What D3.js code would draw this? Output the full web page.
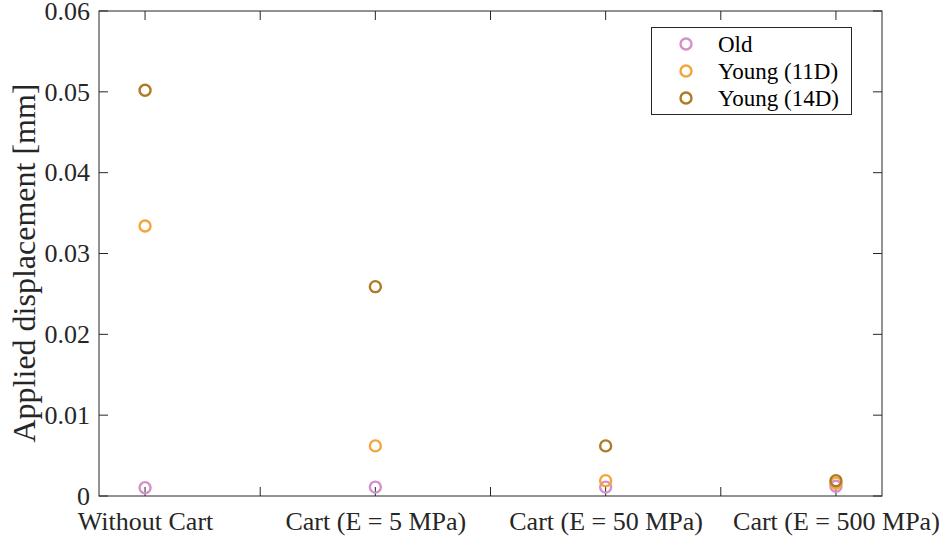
<!DOCTYPE html>
<html>
<head>
<meta charset="utf-8">
<script src="https://cdn.jsdelivr.net/npm/d3@7"></script>
<style>
  html, body { margin: 0; padding: 0; background: #fff; }
  svg text { font-family: "Liberation Serif", "Tinos", "Times New Roman", Times, "DejaVu Serif", serif !important; }
</style>
</head>
<body>
<svg id="chart" width="944" height="539"></svg>
<script>
const categories = ["Without Cart", "Cart (E = 5 MPa)", "Cart (E = 50 MPa)", "Cart (E = 500 MPa)"];
const seriesNames = ["Old", "Young (11D)", "Young (14D)"];
const seriesColors = ["#d68fc9", "#f3a53a", "#b07a24"];
const oldValues = [0.00103, 0.0011, 0.0011, 0.0012];
const young11Values = [0.0334, 0.0062, 0.0019, 0.0016];
const young14Values = [0.0502, 0.0259, 0.0062, 0.0019];
const yTicks = [0, 0.01, 0.02, 0.03, 0.04, 0.05, 0.06];
const yTickLabels = ["0", "0.01", "0.02", "0.03", "0.04", "0.05", "0.06"];
const xTicks = [1, 1.5, 2, 2.5, 3, 3.5, 4];

const seriesValues = [oldValues, young11Values, young14Values];
const FONT = '"Liberation Serif", "Tinos", "Times New Roman", Times, "DejaVu Serif", serif';

const svg = d3.select("#chart");
const margin = { left: 99, top: 11, right: 62, bottom: 43 };
const W = 944, H = 539;
const x = d3.scaleLinear().domain([0.8, 4.2]).range([margin.left, W - margin.right]);
const y = d3.scaleLinear().domain([0, 0.06]).range([H - margin.bottom, margin.top]);

const axisColor = "#262626";
const tickLen = 9;

svg.append("rect")
  .attr("x", x(0.8)).attr("y", y(0.06))
  .attr("width", x(4.2) - x(0.8)).attr("height", y(0) - y(0.06))
  .attr("fill", "none").attr("stroke", axisColor).attr("stroke-width", 1);

const xAxis = d3.axisBottom(x).tickValues(xTicks).tickSize(0)
  .tickFormat(d => Number.isInteger(d) ? categories[d - 1] : "");
const gx = svg.append("g").attr("transform", `translate(0,${y(0)})`).call(xAxis)
  .attr("font-family", FONT);
gx.select(".domain").remove();
gx.selectAll(".tick text").attr("dy", 0).attr("y", 34)
  .style("font-size", "26px").style("font-family", FONT).attr("fill", axisColor);
xTicks.forEach(t => {
  svg.append("line").attr("x1", x(t)).attr("x2", x(t))
    .attr("y1", y(0)).attr("y2", y(0) - tickLen)
    .attr("stroke", axisColor).attr("stroke-width", 1);
  svg.append("line").attr("x1", x(t)).attr("x2", x(t))
    .attr("y1", y(0.06)).attr("y2", y(0.06) + tickLen)
    .attr("stroke", axisColor).attr("stroke-width", 1);
});

const yAxis = d3.axisLeft(y).tickValues(yTicks).tickSize(0)
  .tickFormat((d, i) => yTickLabels[i]);
const gy = svg.append("g").attr("transform", `translate(${x(0.8)},0)`).call(yAxis)
  .attr("font-family", FONT);
gy.select(".domain").remove();
gy.selectAll(".tick text").attr("x", -9).attr("dy", "0.32em")
  .style("font-size", "26px").style("font-family", FONT).attr("fill", axisColor);
yTicks.forEach(t => {
  svg.append("line").attr("x1", x(0.8)).attr("x2", x(0.8) + tickLen)
    .attr("y1", y(t)).attr("y2", y(t))
    .attr("stroke", axisColor).attr("stroke-width", 1);
  svg.append("line").attr("x1", x(4.2)).attr("x2", x(4.2) - tickLen)
    .attr("y1", y(t)).attr("y2", y(t))
    .attr("stroke", axisColor).attr("stroke-width", 1);
});

svg.append("text")
  .attr("transform", `translate(35,263) rotate(-90)`)
  .attr("text-anchor", "middle")
  .style("font-size", "32px").style("font-family", FONT)
  .attr("fill", axisColor)
  .text("Applied displacement [mm]");

seriesValues.forEach((vals, si) => {
  svg.append("g").selectAll("circle").data(vals).join("circle")
    .attr("cx", (d, i) => x(i + 1))
    .attr("cy", d => y(d))
    .attr("r", 5.5)
    .attr("fill", "none")
    .attr("stroke", seriesColors[si])
    .attr("stroke-width", 2.4);
});

const lg = svg.append("g");
lg.append("rect").attr("x", 651.5).attr("y", 27.5).attr("width", 200).attr("height", 87)
  .attr("fill", "#fff").attr("stroke", axisColor).attr("stroke-width", 1);
const legendY = [44, 71, 98];
seriesNames.forEach((name, i) => {
  lg.append("circle").attr("cx", 686).attr("cy", legendY[i]).attr("r", 5.5)
    .attr("fill", "none").attr("stroke", seriesColors[i]).attr("stroke-width", 2.4);
  lg.append("text").attr("x", 718).attr("y", legendY[i]).attr("dy", "0.34em")
    .style("font-size", "23px").style("font-family", FONT).attr("fill", "#000").text(name);
});
</script>
</body>
</html>
